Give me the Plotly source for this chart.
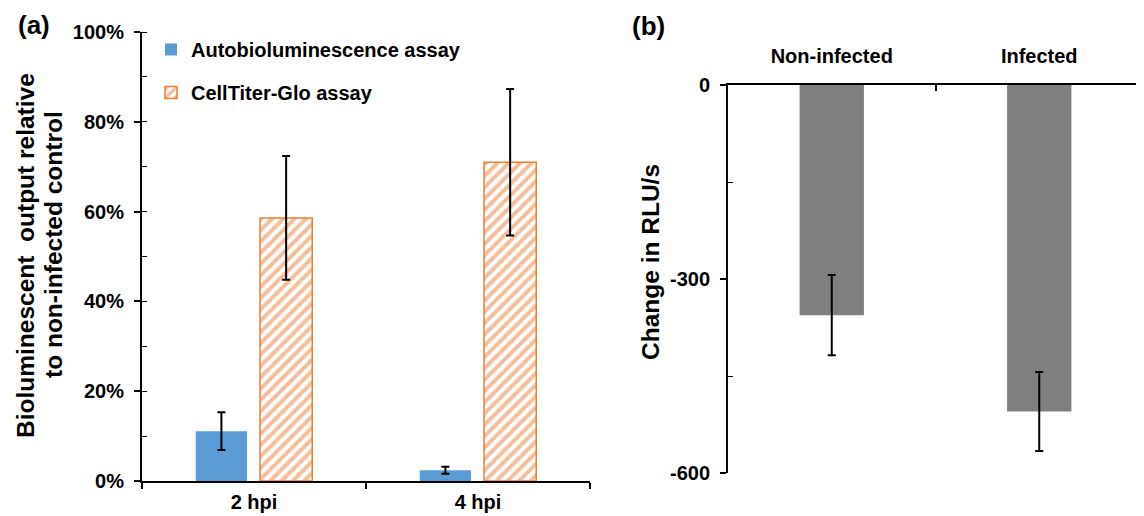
import plotly.graph_objects as go

# Page has an 8px body margin; the figure is sized to fill the remaining window.
OFF = 8
W, H = 1144 - OFF, 516 - OFF

# Panel (a) data
timepoints = ["2 hpi", "4 hpi"]
auto_vals = [11.1, 2.4]
auto_err = [4.2, 0.8]
ctg_vals = [58.6, 71.0]
ctg_err = [13.8, 16.3]

# Panel (b) data
conditions = ["Non-infected", "Infected"]
rlu_vals = [-356, -505]
rlu_err = [62, 61]
rlu_ticks = [-600, -300, 0]
rlu_ticktext = ["-600", "-300", "0"]

FONT = "Liberation Sans, Arial, sans-serif"
BLUE = "#5B9BD5"
ORANGE = "#ED7D31"
GRAY = "#7F7F7F"

def px_x(x):
    return (x - OFF) / W

def px_y(y):
    return 1 - (y - OFF) / H

fig = go.Figure()

fig.add_trace(go.Bar(
    x=timepoints, y=auto_vals, name="Autobioluminescence assay",
    marker=dict(color=BLUE, line=dict(width=0)),
    width=0.229, offset=-0.26,
    error_y=dict(type="data", array=auto_err, color="black", thickness=2, width=4),
    xaxis="x", yaxis="y", legendgroup="a",
))
fig.add_trace(go.Bar(
    x=timepoints, y=ctg_vals, name="CellTiter-Glo assay",
    marker=dict(color="white", line=dict(color=ORANGE, width=1.5),
                pattern=dict(shape="/", fgcolor=ORANGE, bgcolor="white", size=8, solidity=0.5)),
    width=0.233, offset=0.027,
    error_y=dict(type="data", array=ctg_err, color="black", thickness=2, width=4),
    xaxis="x", yaxis="y", legendgroup="b",
))
fig.add_trace(go.Bar(
    x=conditions, y=rlu_vals, name="RLU",
    marker=dict(color=GRAY, line=dict(width=0)),
    width=0.31,
    error_y=dict(type="data", array=rlu_err, color="black", thickness=2, width=4),
    xaxis="x2", yaxis="y2", showlegend=False,
))

tickfont = dict(family=FONT, size=20, color="black", weight="bold")

fig.update_layout(
    width=W, height=H,
    margin=dict(l=0, r=0, t=0, b=0, autoexpand=False),
    paper_bgcolor="white", plot_bgcolor="white",
    barmode="overlay",
    font=dict(family=FONT, color="black"),
    xaxis=dict(
        domain=[px_x(142), px_x(590)], anchor="y", automargin=False,
        showline=True, linecolor="black", linewidth=2,
        ticks="outside", tickson="boundaries", ticklen=6, tickwidth=2, tickcolor="black",
        tickfont=tickfont, showgrid=False, ticklabelstandoff=2,
    ),
    yaxis=dict(
        domain=[px_y(481), px_y(32)], anchor="x", range=[0, 100], automargin=False,
        dtick=20, ticksuffix="%",
        showline=True, linecolor="black", linewidth=2,
        ticks="outside", ticklen=6, tickwidth=2, tickcolor="black",
        minor=dict(dtick=10, ticks="inside", ticklen=5, tickwidth=1, tickcolor="black"),
        tickfont=tickfont, showgrid=False, zeroline=False, ticklabelstandoff=6,
    ),
    xaxis2=dict(
        domain=[px_x(728), px_x(1143)], anchor="y2", side="top", automargin=False,
        showline=True, linecolor="black", linewidth=2,
        ticks="inside", tickson="boundaries", ticklen=6, tickwidth=2, tickcolor="black",
        tickfont=tickfont, showgrid=False, ticklabelstandoff=12,
    ),
    yaxis2=dict(
        domain=[px_y(473), px_y(85)], anchor="x2", range=[-600, 0], automargin=False,
        tickvals=rlu_ticks, ticktext=rlu_ticktext,
        showline=True, linecolor="black", linewidth=2,
        ticks="outside", ticklen=6, tickwidth=2, tickcolor="black",
        minor=dict(tickvals=[-450, -150], ticks="inside", ticklen=5, tickwidth=1, tickcolor="black"),
        tickfont=tickfont, showgrid=False, zeroline=False, ticklabelstandoff=6,
    ),
    legend=dict(
        x=px_x(151), y=px_y(30), xanchor="left", yanchor="top",
        font=dict(family=FONT, size=20, color="black", weight="bold"),
        bgcolor="rgba(0,0,0,0)", tracegroupgap=14, traceorder="grouped",
    ),
    showlegend=True,
)

def text(t, x, y, size, angle=0):
    fig.add_annotation(text=t, x=px_x(x), y=px_y(y), xref="paper", yref="paper",
                       showarrow=False, xanchor="center", yanchor="middle", textangle=angle,
                       font=dict(family=FONT, size=size, color="black", weight="bold"))

text("(a)", 34, 25, 26)
text("(b)", 648, 26, 26)
text("Bioluminescent  output relative", 25, 256, 24.5, -90)
text("to non-infected control", 53, 245, 24.5, -90)
text("Change in RLU/s", 650, 262, 24.5, -90)

fig.write_html("out.html")
